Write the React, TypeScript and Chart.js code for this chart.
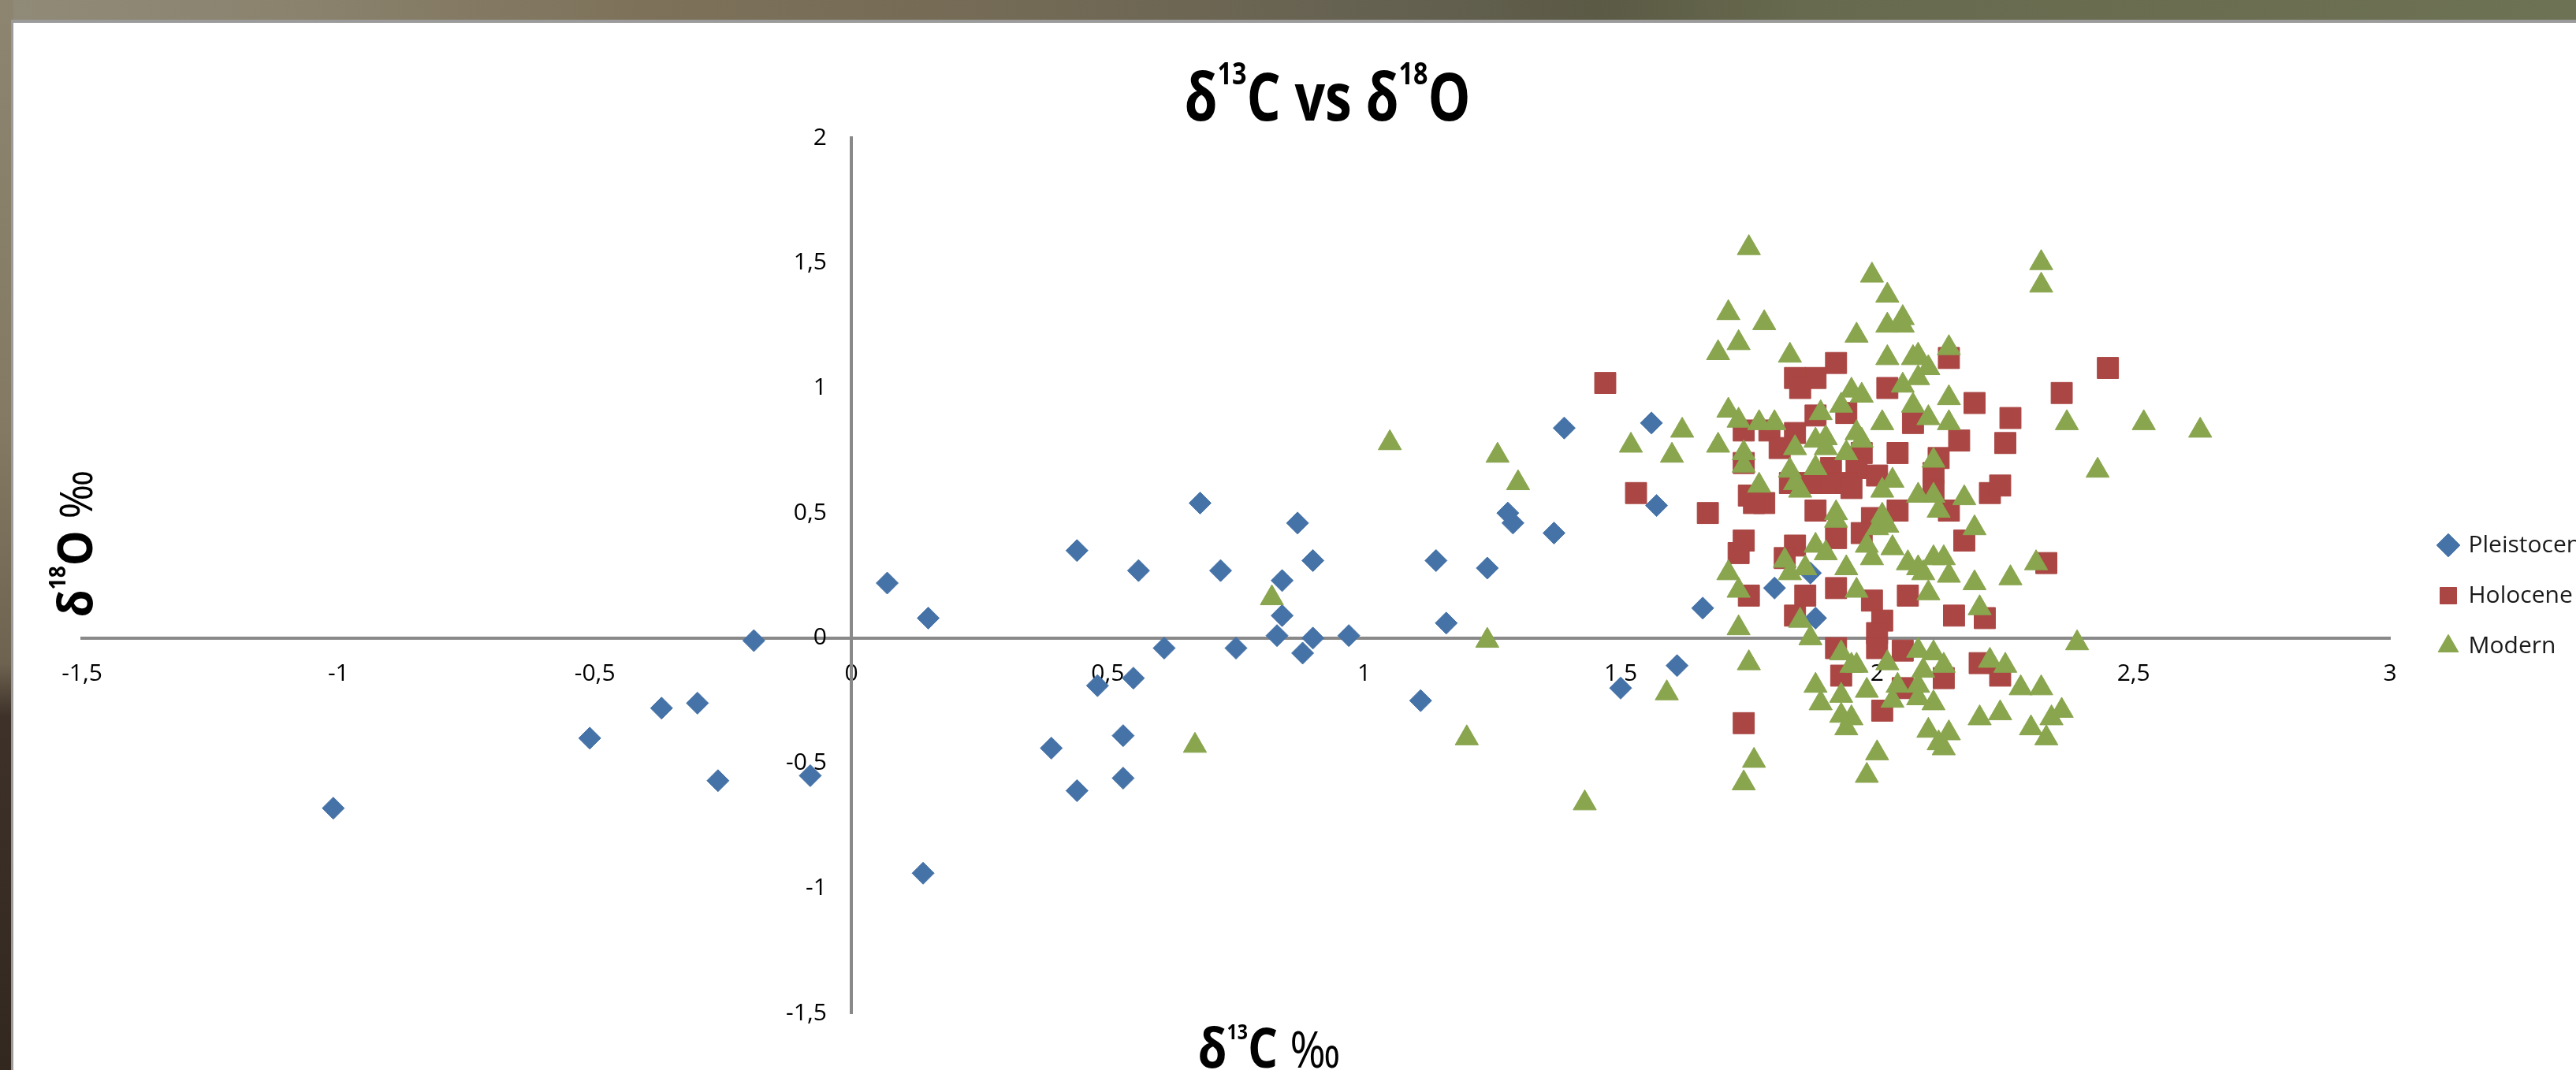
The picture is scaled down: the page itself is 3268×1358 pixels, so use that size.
import React, { useEffect, useRef } from 'react';
import { Chart, registerables } from 'chart.js';

Chart.register(...registerables);

// ---------------- data ----------------
const SERIES_NAMES = ['Pleistocene', 'Holocene', 'Modern'];
const SERIES_COLORS = ['#4572A7', '#AA4643', '#89A54E'];
const SERIES_SHAPES = ['rectRot', 'rect', 'triangle'];

const X_TICKS = [-1.5, -1, -0.5, 0, 0.5, 1, 1.5, 2, 2.5, 3];
const Y_TICKS = [-1.5, -1, -0.5, 0, 0.5, 1, 1.5, 2];

const PLEISTOCENE: [number, number][] = [
  [-1.01, -0.68], [-0.51, -0.40], [-0.37, -0.28], [-0.30, -0.26], [-0.26, -0.57],
  [-0.19, -0.01], [-0.08, -0.55], [0.07, 0.22], [0.15, 0.08], [0.14, -0.94],
  [0.39, -0.44], [0.44, -0.61], [0.44, 0.35], [0.48, -0.19], [0.55, -0.16],
  [0.53, -0.39], [0.53, -0.56], [0.56, 0.27], [0.61, -0.04], [0.68, 0.54],
  [0.72, 0.27], [0.75, -0.04], [0.84, 0.23], [0.84, 0.09], [0.83, 0.01],
  [0.87, 0.46], [0.88, -0.06], [0.90, 0.31], [0.90, 0.00], [0.97, 0.01],
  [1.11, -0.25], [1.14, 0.31], [1.16, 0.06], [1.24, 0.28], [1.28, 0.50],
  [1.29, 0.46], [1.37, 0.42], [1.39, 0.84], [1.50, -0.20], [1.56, 0.86],
  [1.57, 0.53], [1.61, -0.11], [1.66, 0.12], [1.80, 0.20], [1.87, 0.26],
  [1.88, 0.08],
];

const HOLOCENE: [number, number][] = [
  [1.47, 1.02], [1.53, 0.58], [1.92, 1.10], [1.88, 1.04], [1.84, 1.04],
  [1.85, 1.00], [2.14, 1.12], [2.02, 1.00], [2.19, 0.94], [2.26, 0.88],
  [2.07, 0.86], [1.94, 0.90], [1.88, 0.89], [1.74, 0.83], [1.79, 0.83],
  [1.84, 0.82], [1.81, 0.76], [1.74, 0.70], [2.04, 0.74], [2.16, 0.79],
  [2.25, 0.78], [2.12, 0.72], [2.11, 0.66], [2.11, 0.59], [1.97, 0.74],
  [1.96, 0.68], [2.00, 0.65], [1.91, 0.68], [1.94, 0.62], [1.95, 0.60],
  [1.90, 0.62], [1.87, 0.62], [1.83, 0.62], [1.75, 0.57], [1.78, 0.54],
  [1.76, 0.54], [1.67, 0.50], [1.88, 0.51], [2.22, 0.58], [2.24, 0.61],
  [2.04, 0.51], [1.99, 0.48], [2.14, 0.51], [2.45, 1.08], [2.36, 0.98],
  [2.33, 0.30], [2.17, 0.39], [1.74, 0.39], [1.73, 0.34], [1.75, 0.17],
  [1.84, 0.37], [1.82, 0.32], [1.92, 0.40], [1.97, 0.42], [1.86, 0.17],
  [1.84, 0.09], [1.92, 0.20], [1.99, 0.15], [2.01, 0.07], [2.00, 0.02],
  [2.00, -0.04], [1.92, -0.04], [2.05, -0.05], [2.06, 0.17], [2.15, 0.09],
  [2.21, 0.08], [2.20, -0.10], [2.24, -0.15], [2.13, -0.16], [2.05, -0.20],
  [1.93, -0.15], [2.01, -0.29], [1.74, -0.34],
];

const MODERN: [number, number][] = [
  [1.05, 0.78], [0.82, 0.16], [0.67, -0.43], [1.24, -0.01], [1.20, -0.40],
  [1.43, -0.66], [1.59, -0.22], [1.26, 0.73], [1.30, 0.62], [1.52, 0.77],
  [1.60, 0.73], [1.62, 0.83], [1.75, 1.56], [1.99, 1.45], [2.02, 1.37],
  [1.71, 1.30], [1.78, 1.26], [2.05, 1.28], [2.02, 1.25], [2.05, 1.25],
  [1.73, 1.18], [1.96, 1.21], [1.69, 1.14], [1.83, 1.13], [2.02, 1.12],
  [2.07, 1.12], [2.08, 1.13], [2.14, 1.16], [2.10, 1.08], [2.08, 1.04],
  [2.05, 1.01], [1.95, 0.99], [1.97, 0.97], [1.93, 0.93], [1.89, 0.90],
  [2.14, 0.96], [2.07, 0.93], [2.10, 0.88], [2.14, 0.86], [2.01, 0.86],
  [1.71, 0.91], [1.73, 0.87], [1.77, 0.86], [1.80, 0.86], [1.69, 0.77],
  [1.74, 0.74], [1.74, 0.69], [1.84, 0.76], [1.88, 0.79], [1.90, 0.80],
  [1.96, 0.82], [1.97, 0.79], [1.94, 0.74], [1.90, 0.76], [1.88, 0.68],
  [1.83, 0.67], [1.84, 0.62], [1.85, 0.59], [1.77, 0.61], [2.03, 0.63],
  [2.01, 0.59], [2.08, 0.57], [2.11, 0.57], [2.11, 0.71], [2.17, 0.56],
  [1.92, 0.50], [2.12, 0.51], [2.01, 0.49], [2.32, 1.50], [2.32, 1.41],
  [2.37, 0.86], [2.52, 0.86], [2.63, 0.83], [2.43, 0.67], [2.31, 0.30],
  [2.26, 0.24], [1.73, 0.04], [1.71, 0.26], [1.73, 0.19], [1.75, -0.10],
  [1.76, -0.49], [1.74, -0.58], [1.82, 0.31], [1.83, 0.26], [1.86, 0.28],
  [1.85, 0.07], [1.87, 0.00], [1.88, 0.37], [1.90, 0.34], [1.94, 0.28],
  [1.96, 0.19], [1.92, 0.47], [2.00, 0.44], [2.02, 0.45], [1.98, 0.37],
  [1.99, 0.32], [2.03, 0.36], [2.06, 0.30], [2.08, 0.28], [2.09, 0.26],
  [2.11, 0.32], [2.13, 0.32], [2.14, 0.25], [2.10, 0.18], [2.19, 0.44],
  [2.19, 0.22], [2.20, 0.12], [1.93, -0.06], [1.95, -0.11], [1.96, -0.11],
  [2.02, -0.10], [2.08, -0.05], [2.11, -0.06], [2.13, -0.11], [2.09, -0.13],
  [2.22, -0.09], [2.25, -0.11], [1.98, -0.21], [2.04, -0.19], [2.08, -0.19],
  [2.03, -0.25], [2.08, -0.24], [2.11, -0.26], [1.88, -0.19], [1.89, -0.26],
  [1.93, -0.23], [1.93, -0.31], [1.95, -0.32], [1.94, -0.36], [2.10, -0.37],
  [2.12, -0.42], [2.14, -0.38], [2.13, -0.44], [2.20, -0.32], [2.24, -0.30],
  [2.00, -0.46], [1.98, -0.55], [2.39, -0.02], [2.36, -0.29], [2.34, -0.32],
  [2.33, -0.40], [2.30, -0.36], [2.28, -0.20], [2.32, -0.20],
];

const SERIES_DATA = [PLEISTOCENE, HOLOCENE, MODERN];
const SERIES_RADIUS = [14, 19, 17];
const SERIES_ORDER = [2, 3, 1];

// ---------------- layout constants ----------------
const PAGE_W = 3268;
const PAGE_H = 1358;
const CANVAS_W = 3500;
const PLOT_LEFT = 104;
const PLOT_TOP = 175;
const PLOT_RIGHT = 3032;
const PLOT_BOTTOM = 1286;
const FONT = '"Open Sans", "Noto Sans", sans-serif';
const TICK_SIZE = 30;
const LEGEND_SIZE = 30;
const LEGEND_PAD = 34;
const LEGEND_BOX = 21;
const LEGEND_MARKER_X = 3106;
const LEGEND_MARKER_Y = 692;

type Part = { text: string; size: number; weight: string; rise: number };

const TITLE_PARTS: Part[] = [
  { text: 'δ', size: 84, weight: 'bold', rise: 0 },
  { text: '13', size: 40, weight: 'bold', rise: 46 },
  { text: 'C vs δ', size: 84, weight: 'bold', rise: 0 },
  { text: '18', size: 40, weight: 'bold', rise: 46 },
  { text: 'O', size: 84, weight: 'bold', rise: 0 },
];
const X_TITLE_PARTS: Part[] = [
  { text: 'δ', size: 70, weight: 'bold', rise: 0 },
  { text: '13', size: 27, weight: 'bold', rise: 36 },
  { text: 'C ', size: 70, weight: 'bold', rise: 0 },
  { text: '‰', size: 64, weight: 'normal', rise: 0 },
];
const Y_TITLE_PARTS: Part[] = [
  { text: 'δ', size: 60, weight: 'bold', rise: 0 },
  { text: '18', size: 28, weight: 'bold', rise: 34 },
  { text: 'O ', size: 60, weight: 'bold', rise: 0 },
  { text: '‰', size: 56, weight: 'normal', rise: 0 },
];

function drawRich(
  ctx: CanvasRenderingContext2D,
  parts: Part[],
  cx: number,
  baseline: number,
  targetWidth: number,
  rotation: number
) {
  ctx.save();
  const widths = parts.map((p) => {
    ctx.font = `${p.weight} ${p.size}px ${FONT}`;
    return ctx.measureText(p.text).width;
  });
  const total = widths.reduce((a, b) => a + b, 0);
  const sx = targetWidth / total;
  if (rotation === 0) {
    ctx.translate(cx, baseline);
  } else {
    ctx.translate(baseline, cx);
    ctx.rotate(rotation);
  }
  ctx.scale(sx, 1);
  ctx.fillStyle = '#000';
  ctx.textAlign = 'left';
  ctx.textBaseline = 'alphabetic';
  let x = -total / 2;
  parts.forEach((p, i) => {
    ctx.font = `${p.weight} ${p.size}px ${FONT}`;
    ctx.fillText(p.text, x, -p.rise);
    x += widths[i];
  });
  ctx.restore();
}

const titlesPlugin = {
  id: 'richTitles',
  afterDraw(chart: any) {
    const ctx = chart.ctx as CanvasRenderingContext2D;
    drawRich(ctx, TITLE_PARTS, 1684, 153, 363, 0);
    drawRich(ctx, X_TITLE_PARTS, 1610, 1355, 181, 0);
    drawRich(ctx, Y_TITLE_PARTS, 690, 117, 187, -Math.PI / 2);
  },
};

const legendPlacer = {
  id: 'legendPlacer',
  afterLayout(chart: any) {
    const lg = chart.legend;
    if (!lg) return;
    const left = LEGEND_MARKER_X - LEGEND_PAD - LEGEND_BOX / 2;
    const top = LEGEND_MARKER_Y - LEGEND_PAD - LEGEND_SIZE / 2;
    const w = lg.width;
    lg.left = left;
    lg.right = left + w;
    lg.top = top;
    lg.bottom = top + 1000;
    lg.height = 1000;
  },
};

const fmt = (v: number) => (Math.round(v * 10) / 10).toString().replace('.', ',');

export default function App() {
  const ref = useRef<HTMLCanvasElement>(null);

  useEffect(() => {
    const canvas = ref.current;
    if (!canvas) return;

    const m = document.createElement('canvas').getContext('2d')!;
    m.font = `${TICK_SIZE}px ${FONT}`;
    const spaceW = m.measureText(' ').width || 8;
    const yPad = ' '.repeat(Math.max(1, Math.round(31 / spaceW)));

    const datasets = SERIES_NAMES.map((name, i) => ({
      label: name,
      data: SERIES_DATA[i].map(([x, y]) => ({ x, y })),
      pointStyle: SERIES_SHAPES[i],
      pointRadius: SERIES_RADIUS[i],
      pointHoverRadius: SERIES_RADIUS[i],
      backgroundColor: SERIES_COLORS[i],
      borderColor: SERIES_COLORS[i],
      borderWidth: 1,
      order: SERIES_ORDER[i],
    }));

    const chart = new Chart(canvas, {
      type: 'scatter',
      data: { datasets },
      options: {
        animation: false,
        responsive: false,
        devicePixelRatio: 1,
        events: [],
        layout: {
          padding: { left: PLOT_LEFT, top: PLOT_TOP, right: 0, bottom: PAGE_H - PLOT_BOTTOM },
        },
        scales: {
          x: {
            type: 'linear',
            min: -1.5,
            max: 3,
            position: { y: 0 } as any,
            afterBuildTicks: (scale: any) => {
              scale.ticks = X_TICKS.map((value) => ({ value }));
            },
            grid: { display: false, drawTicks: false },
            border: { display: true, color: '#898989', width: 4 },
            ticks: {
              autoSkip: false,
              maxRotation: 0,
              padding: 28,
              color: '#000',
              font: { family: FONT, size: TICK_SIZE },
              callback: (v: any) => fmt(Number(v)),
            },
          },
          y: {
            type: 'linear',
            min: -1.5,
            max: 2,
            position: { x: 0 } as any,
            afterBuildTicks: (scale: any) => {
              scale.ticks = Y_TICKS.map((value) => ({ value }));
            },
            grid: { display: false, drawTicks: false },
            border: { display: true, color: '#898989', width: 4 },
            ticks: {
              autoSkip: false,
              color: '#000',
              font: { family: FONT, size: TICK_SIZE },
              callback: (v: any) => fmt(Number(v)) + yPad,
            },
          },
        },
        plugins: {
          title: { display: false },
          tooltip: { enabled: false },
          legend: {
            display: true,
            position: 'right',
            align: 'start',
            labels: {
              usePointStyle: true,
              boxWidth: LEGEND_BOX,
              boxHeight: LEGEND_BOX,
              padding: LEGEND_PAD,
              color: '#1a1a1a',
              font: { family: FONT, size: LEGEND_SIZE },
              sort: (a: any, b: any) => a.datasetIndex - b.datasetIndex,
            },
          },
        },
      } as any,
      plugins: [titlesPlugin, legendPlacer],
    });

    const dx = chart.chartArea.right - PLOT_RIGHT;
    if (Math.abs(dx) > 0.01) {
      (chart.options as any).layout.padding = {
        left: PLOT_LEFT,
        top: PLOT_TOP,
        right: dx,
        bottom: PAGE_H - PLOT_BOTTOM,
      };
      chart.update();
    }

    return () => chart.destroy();
  }, []);

  return (
    <div
      style={{
        position: 'fixed',
        left: 0,
        top: 0,
        width: PAGE_W,
        height: PAGE_H,
        overflow: 'hidden',
        background:
          'linear-gradient(to right, #908b78 0%, #8a826d 12%, #7d7159 25%, #736a55 40%, #636050 55%, #5b5a45 62%, #676a4e 70%, #6a6d50 85%, #6e7254 100%)',
      }}
    >
      <div
        style={{
          position: 'absolute',
          left: 0,
          top: 0,
          width: 17,
          height: PAGE_H,
          background:
            'linear-gradient(to bottom, #8d8570 0%, #847a63 40%, #6e6350 62%, #3d3129 67%, #33281f 100%)',
        }}
      />
      <div style={{ position: 'absolute', left: 14, top: 25, right: 0, bottom: 0, background: '#9b9b9b' }} />
      <div style={{ position: 'absolute', left: 17, top: 29, right: 0, bottom: 0, background: '#ffffff' }} />
      <canvas
        ref={ref}
        width={CANVAS_W}
        height={PAGE_H}
        style={{ position: 'absolute', left: 0, top: 0, width: CANVAS_W, height: PAGE_H }}
      />
    </div>
  );
}
